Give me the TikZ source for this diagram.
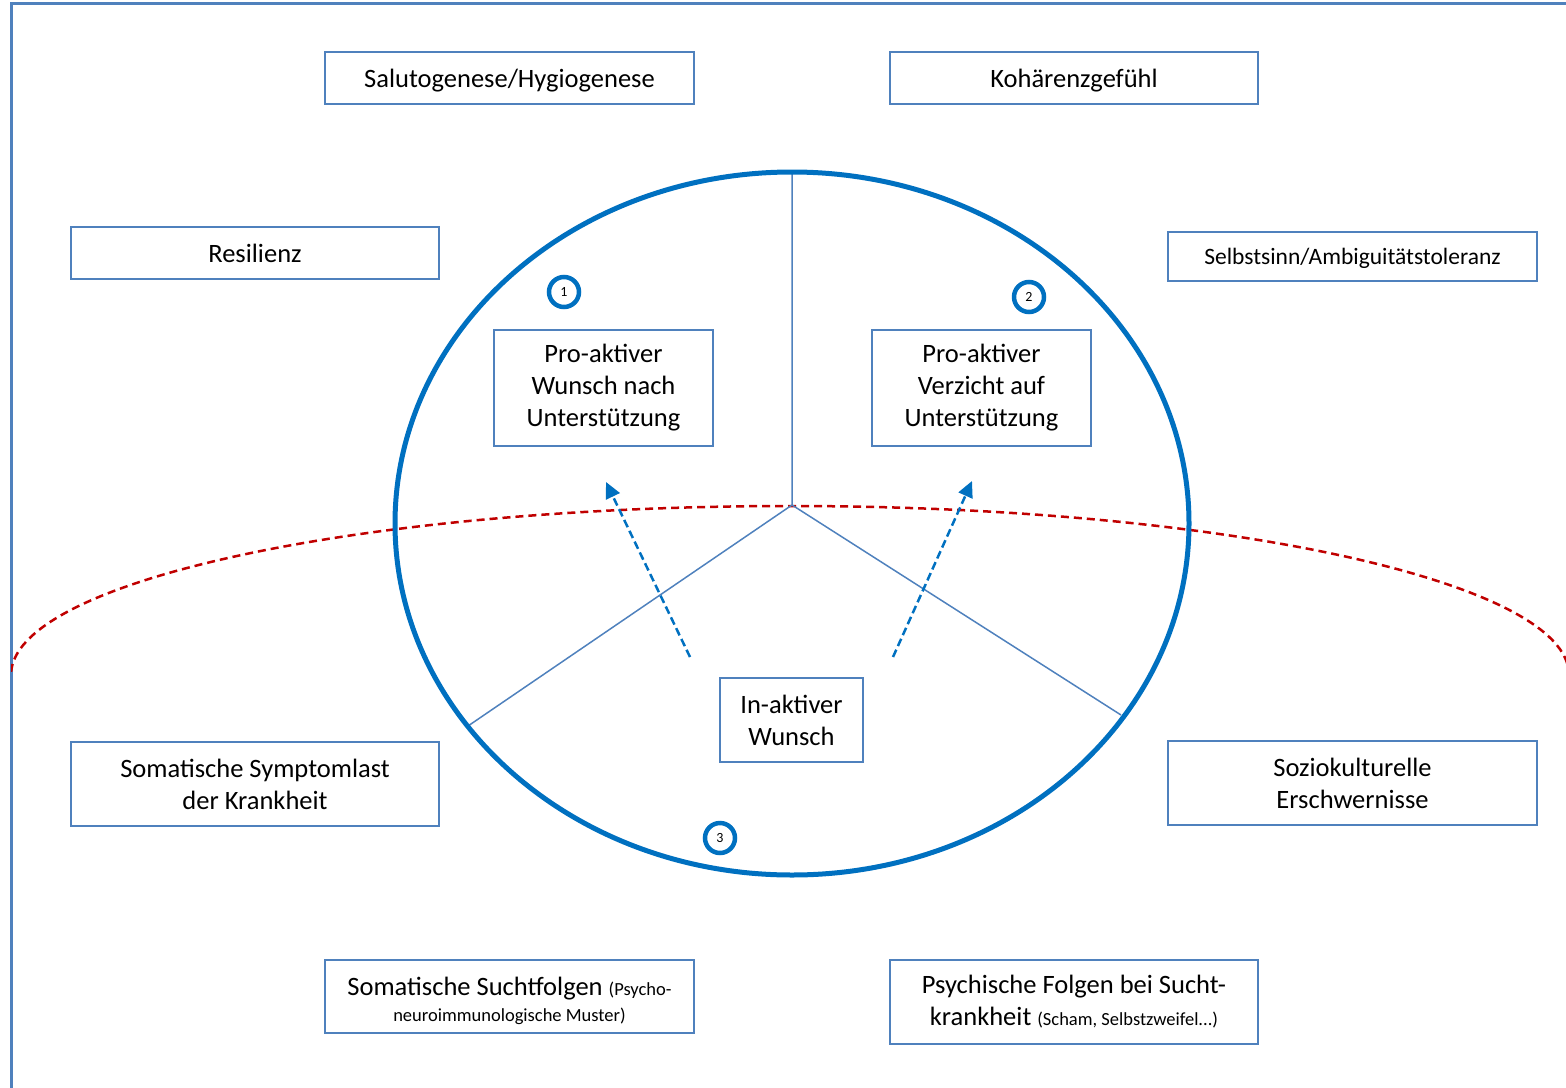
\documentclass[tikz,border=0pt]{standalone}
\usepackage{fontspec}
\setmainfont{Carlito}
\usetikzlibrary{arrows.meta}
\definecolor{boxblue}{RGB}{79,129,189}
\definecolor{ringblue}{RGB}{0,112,192}
\definecolor{dashred}{RGB}{192,0,0}
\begin{document}
\begin{tikzpicture}[x=1pt,y=-1pt,
  box/.style={draw=boxblue,line width=2.5pt,fill=white,align=center,inner sep=0pt,
    font=\fontsize{26.5}{32}\selectfont},
  spoke/.style={draw=boxblue,line width=1.5pt},
  numring/.style={circle,draw=ringblue,line width=4.5pt,minimum size=30pt,inner sep=0pt,
    font=\fontsize{14}{16}\selectfont},
  wisharrow/.style={draw=ringblue,line width=2.5pt,dash pattern=on 8pt off 4pt,
    -{Triangle[length=16pt,width=15pt]}},
  redline/.style={draw=dashred,line width=2.5pt,dash pattern=on 8pt off 5pt}]
\useasboundingbox (0,0) rectangle (1566,1087);
% frame
\draw[boxblue,line width=3pt] (11,1090) -- (11,3) -- (1570,3);
% red dashed arc
\begin{scope}
  \clip (11,0) rectangle (1566,675);
  \draw[redline] (790,675) ellipse [x radius=779, y radius=169];
\end{scope}
% spokes
\coordinate (hub) at (792,505);
\coordinate (top) at (792,172);
\coordinate (bl) at (468,726);
\coordinate (br) at (1121,715);
\draw[spoke] (top) -- (hub) -- (bl);
\draw[spoke] (hub) -- (br);
% big ellipse
\draw[ringblue,line width=5pt] (792,523.5) ellipse [x radius=397, y radius=351.5];
% boxes
\node[box,minimum width=369pt,minimum height=52pt] (salu) at (509.5,78) {\raisebox{-9pt}[0pt][0pt]{Salutogenese/Hygiogenese}};
\node[box,minimum width=368pt,minimum height=52pt] (koh) at (1074,78) {\raisebox{-9pt}[0pt][0pt]{Kohärenzgefühl}};
\node[box,minimum width=368pt,minimum height=52pt] (res) at (255,253) {\raisebox{-9pt}[0pt][0pt]{Resilienz}};
\node[box,minimum width=369pt,minimum height=49pt,font=\fontsize{23.5}{28}\selectfont] (selb) at (1352.5,256.5) {\raisebox{-8pt}[0pt][0pt]{Selbstsinn/Ambiguitätstoleranz}};
\node[box,minimum width=219pt,minimum height=116pt] (pro1) at (603.5,388) {Pro-aktiver\\Wunsch nach\\Unterstützung};
\node[box,minimum width=219pt,minimum height=116pt] (pro2) at (981.5,388) {Pro-aktiver\\Verzicht auf\\Unterstützung};
\node[box,minimum width=143pt,minimum height=84pt] (inakt) at (791.5,720) {In-aktiver\\Wunsch};
\node[box,minimum width=368pt,minimum height=84pt] (symp) at (255,784) {Somatische Symptomlast\\der Krankheit};
\node[box,minimum width=369pt,minimum height=84pt] (sozio) at (1352.5,783) {Soziokulturelle\\Erschwernisse};
\node[box,minimum width=369pt,minimum height=73pt] (sucht) at (509.5,996.5)
  {\\[-4pt]Somatische Suchtfolgen {\fontsize{18.5}{22}\selectfont (Psycho-}\\[-6pt]{\fontsize{18.5}{22}\selectfont neuroimmunologische Muster)}};
\node[box,minimum width=368pt,minimum height=84pt] (psych) at (1074,1002)
  {Psychische Folgen bei Sucht-\\krankheit {\fontsize{18.5}{22}\selectfont (Scham, Selbstzweifel...)}};
% arrows
\coordinate (a1s) at (690,657);
\coordinate (a1e) at (606,482);
\coordinate (a2s) at (893,657);
\coordinate (a2e) at (972,481);
\draw[wisharrow] (a1s) -- (a1e);
\draw[wisharrow] (a2s) -- (a2e);
% number rings
\node[numring] (n1) at (564,292) {1};
\node[numring] (n2) at (1029,297) {2};
\node[numring] (n3) at (720,838) {3};
\end{tikzpicture}
\end{document}
